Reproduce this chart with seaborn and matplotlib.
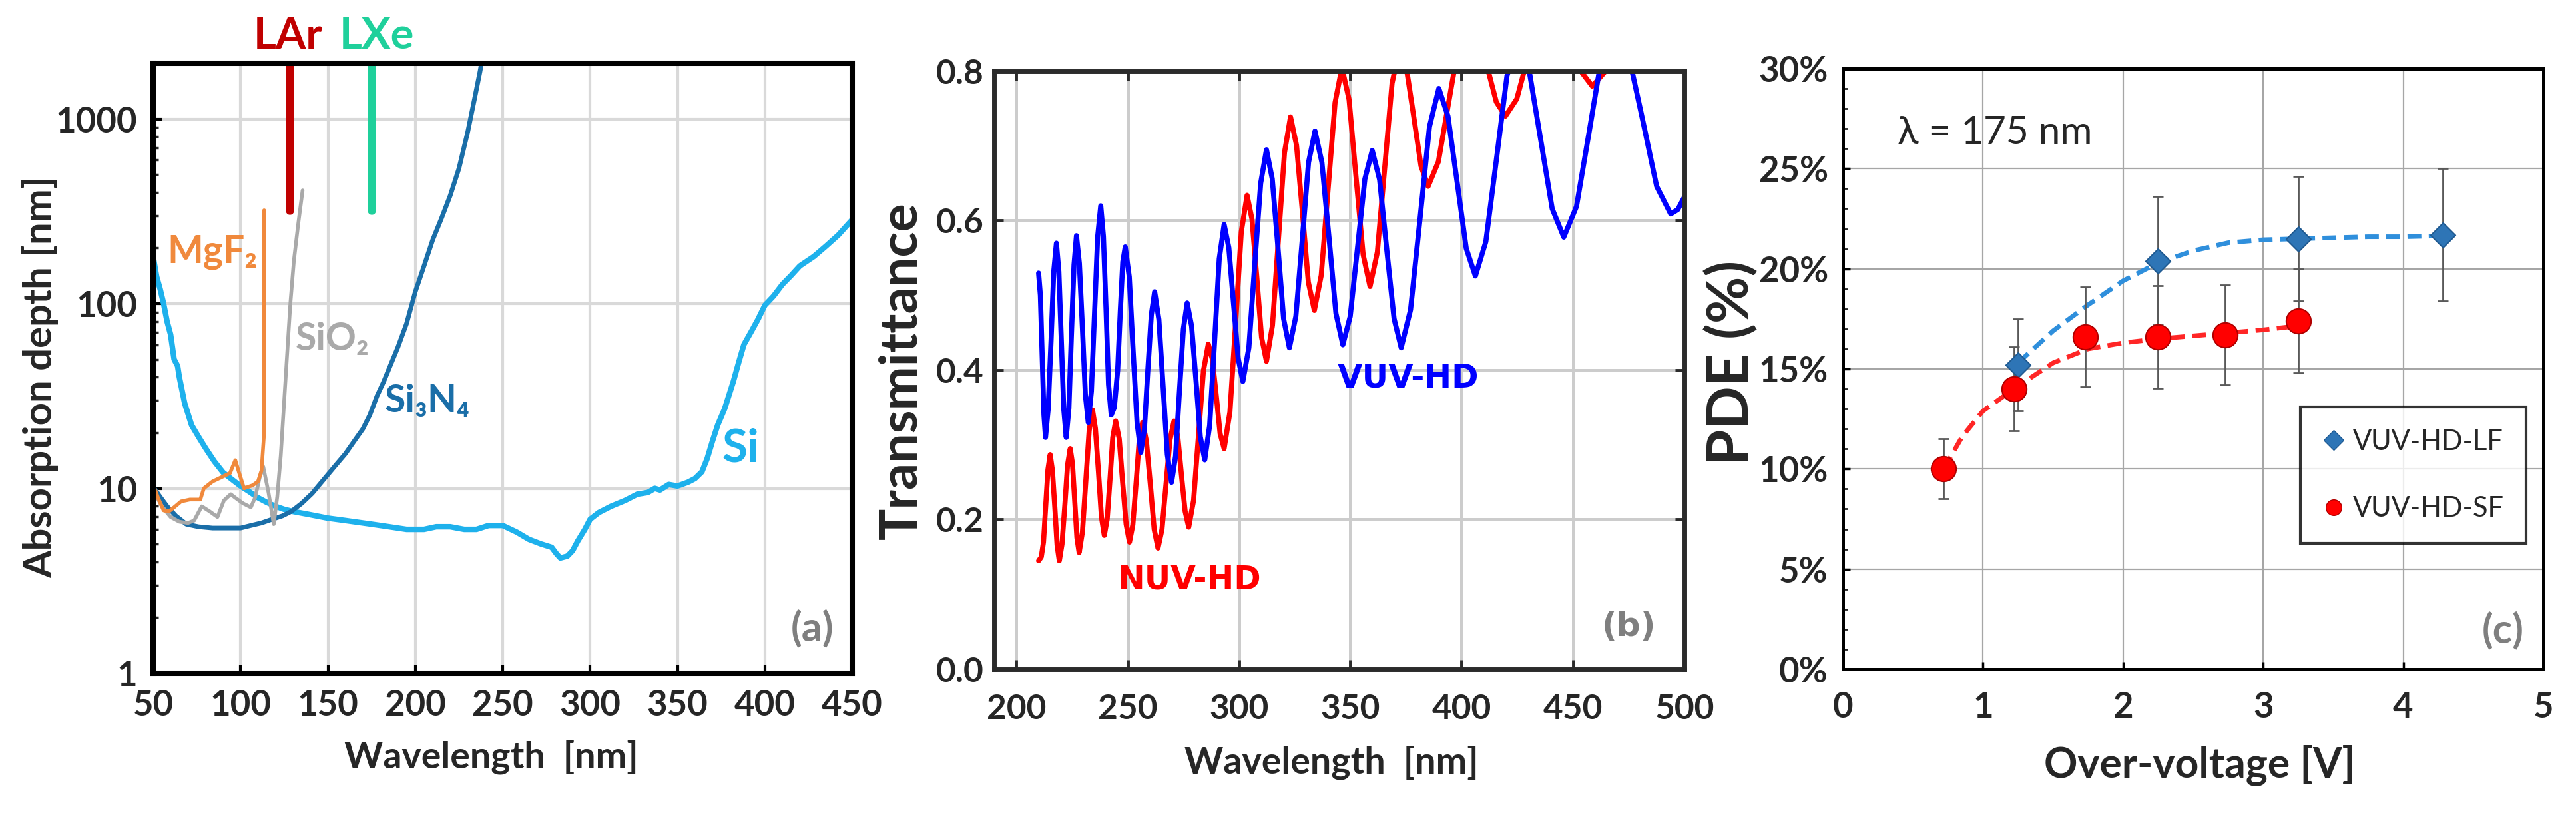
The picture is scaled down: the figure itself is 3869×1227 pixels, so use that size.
import matplotlib
matplotlib.use("Agg")
import matplotlib.pyplot as plt
import matplotlib.ticker as mticker
from matplotlib.lines import Line2D
import numpy as np
import seaborn as sns

# ---------------- panel (a): absorption depth [nm] vs wavelength [nm] ----------------
si_nm = [50, 52, 54, 56, 58, 60, 62, 64, 65, 68, 72, 76, 80, 85, 90, 95, 100, 105, 110, 115,
         120, 125, 130, 140, 150, 160, 175, 185, 195, 205, 212, 220, 228, 235, 242, 250, 258, 265, 272, 278,
         281, 283, 287, 290, 293, 297, 300, 305, 312, 320, 327, 333, 337, 340, 345, 350, 356, 360, 364, 367,
         370, 373, 377, 382, 385, 388, 392, 396, 400, 405, 410, 415, 420, 428, 435, 442, 450]
si_depth = [180, 140, 120, 100, 80, 68, 50, 46, 40, 29, 22, 19, 16.5, 14, 12.2, 11.2, 10.3, 9.6, 8.9, 8.4,
            8.0, 7.7, 7.5, 7.2, 6.9, 6.7, 6.4, 6.2, 6.0, 6.0, 6.2, 6.2, 6.0, 6.0, 6.3, 6.3, 5.8, 5.3, 5.0, 4.8,
            4.4, 4.2, 4.3, 4.6, 5.2, 6.0, 6.8, 7.4, 8.0, 8.6, 9.3, 9.5, 10.0, 9.8, 10.5, 10.3, 10.8, 11.3, 12.3, 14.5,
            18, 22, 27, 38, 48, 60, 70, 82, 98, 110, 127, 142, 160, 180, 205, 235, 285]

si3n4_nm = [50, 54, 58, 63, 69, 76, 84, 92, 100, 106, 112, 118, 124, 129, 135, 141, 147, 154, 160, 165,
            170, 174, 178, 182, 186, 190, 195, 200, 205, 210, 215, 220, 225, 230, 234, 237, 239]
si3n4_depth = [10.2, 9.0, 8.0, 7.1, 6.4, 6.2, 6.1, 6.1, 6.1, 6.3, 6.5, 6.8, 7.1, 7.5, 8.3, 9.4, 11.0, 13.2, 15.4, 18,
               21, 25, 31.5, 38, 47, 58, 78, 116, 160, 222, 290, 385, 540, 850, 1300, 1800, 2300]

mgf2_nm = [50, 53, 56, 59, 62, 66, 71, 77, 79, 84, 90, 94, 97, 99, 102, 107, 110, 112, 113.5, 113.5]
mgf2_depth = [10.5, 8.8, 7.6, 7.5, 7.9, 8.5, 8.7, 8.7, 10.0, 10.9, 11.6, 12.1, 14.2, 12.3, 10.0, 10.4, 10.9, 12.5, 20, 320]

sio2_nm = [50, 55, 60, 65, 70, 73.5, 77.8, 82.4, 86.8, 90.5, 94.4, 97, 101.4, 105.9, 108.3, 111, 113, 116,
           119, 121, 123, 125, 127, 128.5, 130.5, 133, 135.5]
sio2_depth = [9.8, 8.0, 7.0, 6.6, 6.5, 6.7, 8.0, 7.5, 7.0, 8.6, 9.3, 8.9, 8.3, 7.9, 8.9, 11.5, 13.1, 9.5,
              6.4, 9.0, 15, 30, 60, 100, 170, 270, 410]

scint_names = ["LAr", "LXe"]
scint_nm = [128, 175]
scint_label_nm = [127, 178]
scint_bar_bottom = 320

# ---------------- panel (b): transmittance vs wavelength ----------------
vuv_nm = [210.0, 210.8, 211.6, 212.4, 213.1,
          214.3, 215.6, 216.8, 218.0,
          219.1, 220.2, 221.3, 222.4,
          223.6, 224.7, 225.9, 227.0,
          228.3, 229.7, 231.0, 232.3,
          233.7, 235.1, 236.5, 237.9,
          239.1, 240.3, 241.4, 242.6,
          244.0, 245.5, 246.7, 247.8, 248.9,
          250.7, 252.4, 254.2, 255.9,
          257.5, 259.0, 260.6, 262.1,
          264.0, 265.9, 267.8, 269.7,
          271.5, 273.2, 275.0, 276.7,
          278.7, 280.7, 282.6, 284.6,
          286.8, 289.0, 291.1, 293.3,
          295.4, 297.5, 299.6, 301.7,
          304.4, 307.0, 309.7, 312.3,
          314.9, 317.5, 320.0, 322.6,
          325.5, 328.4, 331.2, 334.1,
          337.2, 340.4, 343.5, 346.6,
          349.9, 353.2, 356.5, 359.8,
          363.1, 366.3, 369.6, 372.8,
          377.0, 381.3, 385.5, 389.7,
          393.8, 397.9, 402.0, 406.1,
          410.8, 415.6, 420.3, 425.0,
          430.2, 435.4, 440.6, 445.8,
          451.5, 457.2, 462.8, 468.5,
          474.8, 481.2, 487.5, 493.8,
          497.0, 500.0]
vuv_t = [0.53, 0.50, 0.42, 0.34, 0.31,
         0.348, 0.44, 0.532, 0.57,
         0.532, 0.44, 0.348, 0.31,
         0.349, 0.445, 0.541, 0.58,
         0.543, 0.455, 0.367, 0.33,
         0.372, 0.475, 0.578, 0.62,
         0.579, 0.48, 0.381, 0.34,
         0.35, 0.40, 0.48, 0.545, 0.565,
         0.525, 0.428, 0.33, 0.29,
         0.321, 0.398, 0.474, 0.505,
         0.468, 0.378, 0.287, 0.25,
         0.285, 0.37, 0.455, 0.49,
         0.459, 0.385, 0.311, 0.28,
         0.326, 0.438, 0.549, 0.595,
         0.564, 0.49, 0.416, 0.385,
         0.43, 0.54, 0.65, 0.695,
         0.656, 0.563, 0.469, 0.43,
         0.472, 0.575, 0.678, 0.72,
         0.678, 0.577, 0.476, 0.434,
         0.472, 0.564, 0.656, 0.694,
         0.655, 0.562, 0.469, 0.43,
         0.481, 0.604, 0.726, 0.777,
         0.74, 0.652, 0.563, 0.526,
         0.572, 0.683, 0.794, 0.84,
         0.802, 0.709, 0.616, 0.578,
         0.619, 0.719, 0.819, 0.86,
         0.823, 0.735, 0.646, 0.609,
         0.615, 0.632]

nuv_nm = [210.0, 211.2,
          212.2, 213.2, 214.2, 215.2,
          216.2, 217.3, 218.3, 219.3,
          220.5, 221.8, 223.0, 224.2,
          225.2, 226.2, 227.2, 228.2,
          229.7, 231.2, 232.7, 234.2,
          235.5, 236.9, 238.2, 239.5,
          240.8, 242.1, 243.3, 244.6,
          246.2, 247.7, 249.3, 250.8,
          252.3, 253.8, 255.2, 256.7,
          258.4, 260.2, 261.9, 263.6,
          265.4, 267.2, 269.0, 270.8,
          272.5, 274.1, 275.8, 277.4,
          279.6, 281.8, 284.0, 286.2,
          288.0, 289.8, 291.5, 293.3,
          295.9, 298.5, 301.0, 303.6,
          305.8, 308.0, 310.1, 312.3,
          315.0, 317.7, 320.4, 323.1,
          325.8, 328.5, 331.1, 333.8,
          336.9, 340.0, 343.1, 346.2,
          349.4, 352.5, 355.7, 358.8,
          362.1, 365.4, 368.7, 372.0,
          375.2, 378.5, 381.7, 384.9,
          389.5, 394.1, 398.7, 403.3,
          407.4, 411.5, 415.5, 419.6,
          424.7, 429.8, 434.9, 440.0,
          444.7, 449.3, 454.0, 458.6,
          463.9, 469.3, 474.7, 480.0,
          490.0, 500.0]
nuv_t = [0.145, 0.15,
         0.17, 0.219, 0.267, 0.287,
         0.266, 0.216, 0.166, 0.145,
         0.167, 0.22, 0.273, 0.295,
         0.275, 0.226, 0.176, 0.156,
         0.184, 0.252, 0.319, 0.347,
         0.322, 0.263, 0.204, 0.179,
         0.201, 0.256, 0.31, 0.332,
         0.308, 0.251, 0.194, 0.17,
         0.193, 0.25, 0.307, 0.33,
         0.305, 0.246, 0.187, 0.162,
         0.187, 0.247, 0.307, 0.332,
         0.311, 0.261, 0.211, 0.19,
         0.226, 0.313, 0.399, 0.435,
         0.415, 0.365, 0.315, 0.295,
         0.344, 0.465, 0.585, 0.634,
         0.602, 0.523, 0.444, 0.412,
         0.46, 0.576, 0.691, 0.739,
         0.701, 0.61, 0.518, 0.48,
         0.527, 0.643, 0.758, 0.805,
         0.762, 0.659, 0.555, 0.512,
         0.558, 0.671, 0.784, 0.83,
         0.803, 0.738, 0.673, 0.646,
         0.679, 0.758, 0.837, 0.87,
         0.851, 0.805, 0.759, 0.74,
         0.763, 0.82, 0.877, 0.90,
         0.882, 0.84, 0.798, 0.78,
         0.798, 0.84, 0.882, 0.90,
         0.875, 0.84]

# ---------------- panel (c): PDE vs over-voltage at 175 nm ----------------
lf_ov = [1.25, 2.25, 3.25, 4.28]
lf_pde = [15.2, 20.4, 21.5, 21.7]
lf_err = [2.3, 3.2, 3.1, 3.3]
sf_ov = [0.72, 1.22, 1.73, 2.25, 2.73, 3.25]
sf_pde = [10.0, 14.0, 16.6, 16.6, 16.7, 17.4]
sf_err = [1.5, 2.1, 2.5, 2.55, 2.5, 2.6]
lf_fit_ov = [1.25, 1.5, 1.75, 2.0, 2.25, 2.5, 2.75, 3.0, 3.25, 3.5, 3.75, 4.0, 4.28]
lf_fit_pde = [15.3, 16.9, 18.2, 19.4, 20.3, 20.9, 21.3, 21.45, 21.5, 21.55, 21.6, 21.6, 21.65]
sf_fit_ov = [0.72, 0.85, 1.0, 1.22, 1.5, 1.75, 2.0, 2.25, 2.5, 2.75, 3.0, 3.25]
sf_fit_pde = [10.0, 11.6, 12.9, 14.0, 15.3, 16.0, 16.3, 16.5, 16.65, 16.8, 16.95, 17.15]

# ---------------- style ----------------
sns.set_theme(style="white")
plt.rcParams['font.family'] = ['Lato', 'DejaVu Sans']
plt.rcParams['font.weight'] = 'bold'

grey_txt = '#7f7f7f'

fig = plt.figure(figsize=(38.69, 12.27), dpi=100)
ax_a = fig.add_axes([0.05945, 0.17604, 0.27139, 0.74654])
ax_b = fig.add_axes([0.38589, 0.18093, 0.26803, 0.73187])
ax_c = fig.add_axes([0.71543, 0.18093, 0.27191, 0.73513])

# ---------------- draw (a) ----------------
ax_a.set_yscale('log')
curves_a = [
    (si_nm, si_depth, '#1eb1ec', 6.0),
    (si3n4_nm, si3n4_depth, '#1a6ea8', 5.0),
    (sio2_nm, sio2_depth, '#a9a9a9', 4.0),
    (mgf2_nm, mgf2_depth, '#f0893c', 4.0),
]
for xs, ys, col, lw in curves_a:
    sns.lineplot(x=xs, y=ys, color=col, linewidth=lw, estimator=None, sort=False, ax=ax_a)

ax_a.set_xlim(50, 450)
ax_a.set_ylim(1, 2000)
scint_cols = ['#c00000', '#1fd09b']
ax_a.vlines(scint_nm, scint_bar_bottom, 2000, colors=scint_cols, linewidth=9, capstyle='round')
for name, xl, col in zip(scint_names, scint_label_nm, scint_cols):
    ax_a.text(xl, 1.044, name, transform=ax_a.get_xaxis_transform(), ha='center', va='center',
              fontsize=47, fontweight='bold', color=col, clip_on=False)

ax_a.text(84, 167, 'MgF\u2082', color='#f0893c', fontsize=41, fontweight='bold', ha='center', va='baseline')
ax_a.text(152.5, 56, 'SiO\u2082', color='#a9a9a9', fontsize=41, fontweight='bold', ha='center', va='baseline')
ax_a.text(207, 25.8, 'Si\u2083N\u2084', color='#1a6ea8', fontsize=41, fontweight='bold', ha='center', va='baseline')
ax_a.text(386, 13.9, 'Si', color='#1eb1ec', fontsize=50, fontweight='bold', ha='center', va='baseline')
ax_a.text(0.9425, 0.074, '(a)', color=grey_txt, fontsize=44, fontweight='bold', ha='center', va='center',
          transform=ax_a.transAxes)

ax_a.set_xticks(range(50, 451, 50))
ax_a.set_yticks([1, 10, 100, 1000], labels=['1', '10', '100', '1000'])
ax_a.yaxis.set_minor_locator(mticker.LogLocator(base=10, subs=np.arange(2, 10) * 1.0, numticks=20))
ax_a.yaxis.set_minor_formatter(mticker.NullFormatter())
ax_a.grid(True, which='major', color='#d9d9d9', linewidth=3)
ax_a.set_axisbelow(True)
ax_a.tick_params(axis='both', which='major', direction='in', length=9, width=3, color='black',
                 labelsize=38, bottom=True, left=True, pad=17)
ax_a.tick_params(axis='y', which='minor', direction='in', length=6, width=2.5, left=True)
for sp in ax_a.spines.values():
    sp.set_color('black')
    sp.set_linewidth(5.8)
ax_a.set_xlabel('Wavelength  [nm]', fontsize=40, fontweight='bold')
ax_a.set_ylabel('Absorption depth [nm]', fontsize=43, fontweight='bold')
ax_a.xaxis.set_label_coords(0.484, -0.110)
ax_a.yaxis.set_label_coords(-0.135, 0.485)

# ---------------- draw (b) ----------------
sns.lineplot(x=nuv_nm, y=nuv_t, color='#ff0000', linewidth=5.5, estimator=None, sort=False, ax=ax_b)
sns.lineplot(x=vuv_nm, y=vuv_t, color='#0000ff', linewidth=5.5, estimator=None, sort=False, ax=ax_b)
ax_b.set_xlim(190, 500)
ax_b.set_ylim(0, 0.8)
ax_b.set_xticks(range(200, 501, 50))
ax_b.set_yticks([0, 0.2, 0.4, 0.6, 0.8], labels=['0.0', '0.2', '0.4', '0.6', '0.8'])
ax_b.grid(True, color='#cccccc', linewidth=3.6)
ax_b.set_axisbelow(True)
ax_b.tick_params(axis='both', direction='in', length=10, width=3.5, color='#2b2b2b', labelsize=37,
                 bottom=True, left=True, top=True, right=True)
ax_b.tick_params(axis='x', pad=27)
ax_b.tick_params(axis='y', pad=11)
for sp in ax_b.spines.values():
    sp.set_color('#2b2b2b')
    sp.set_linewidth(5)
ax_b.text(277.7, 0.12, 'NUV-HD', color='#ff0000', fontsize=35, fontweight='bold', family='DejaVu Sans',
          ha='center', va='center')
ax_b.text(376, 0.39, 'VUV-HD', color='#0000ff', fontsize=35, fontweight='bold', family='DejaVu Sans',
          ha='center', va='center')
ax_b.text(475, 0.057, '(b)', color=grey_txt, fontsize=36, fontweight='bold', family='DejaVu Sans',
          ha='center', va='center')
ax_b.set_xlabel('Wavelength  [nm]', fontsize=40, fontweight='bold')
ax_b.set_ylabel('Transmittance', fontsize=57, fontweight='bold')
ax_b.xaxis.set_label_coords(0.489, -0.128)
ax_b.yaxis.set_label_coords(-0.099, 0.499)

# ---------------- draw (c) ----------------
blue_c = '#2e75b6'
red_c = '#ff0000'
sns.lineplot(x=lf_fit_ov, y=lf_fit_pde, color='#2f8fdc', linewidth=5, estimator=None,
             sort=False, ax=ax_c).lines[-1].set_dashes((3, 1.6))
sns.lineplot(x=sf_fit_ov, y=sf_fit_pde, color='#ff2626', linewidth=5, estimator=None,
             sort=False, ax=ax_c).lines[-1].set_dashes((3, 1.6))
ax_c.errorbar(lf_ov, lf_pde, yerr=lf_err, fmt='none', ecolor='#595959', elinewidth=2, capsize=6, capthick=2, zorder=3)
ax_c.errorbar(sf_ov, sf_pde, yerr=sf_err, fmt='none', ecolor='#595959', elinewidth=2, capsize=6, capthick=2, zorder=3)
sns.scatterplot(x=lf_ov, y=lf_pde, marker='D', s=360, color=blue_c, edgecolor='#1f5a91', linewidth=1.5,
                zorder=4, ax=ax_c)
sns.scatterplot(x=sf_ov, y=sf_pde, marker='o', s=720, color=red_c, edgecolor='#b00000', linewidth=1.5,
                zorder=4, ax=ax_c)

ax_c.set_xlim(0, 5)
ax_c.set_ylim(0, 30)
ax_c.set_xticks(range(0, 6))
ax_c.set_yticks(range(0, 31, 5))
ax_c.yaxis.set_major_formatter(mticker.FuncFormatter(lambda v, p: '{:d}%'.format(int(round(v)))))
ax_c.yaxis.set_minor_locator(mticker.MultipleLocator(1))
ax_c.grid(True, which='major', color='#a6a6a6', linewidth=1.6)
ax_c.set_axisbelow(True)
ax_c.tick_params(axis='both', which='major', direction='in', length=8, width=2.5, color='black',
                 labelsize=38, bottom=True, left=True)
ax_c.tick_params(axis='x', pad=24)
ax_c.tick_params(axis='y', pad=16)
ax_c.tick_params(axis='y', which='minor', direction='in', length=5, width=2, left=True)
for sp in ax_c.spines.values():
    sp.set_color('black')
    sp.set_linewidth(3.6)
ax_c.text(0.39, 26.8, '\u03bb = 175 nm', fontsize=42, fontweight='normal', ha='left', va='center')
ax_c.text(4.71, 1.95, '(c)', color=grey_txt, fontsize=44, fontweight='bold', ha='center', va='center')
ax_c.set_xlabel('Over-voltage [V]', fontsize=45, fontweight='bold')
ax_c.set_ylabel('PDE (%)', fontsize=62, fontweight='bold')
ax_c.xaxis.set_label_coords(0.5095, -0.125)
ax_c.yaxis.set_label_coords(-0.12, 0.511)

handles = [
    Line2D([], [], linestyle='none', marker='D', markersize=15, markerfacecolor=blue_c,
           markeredgecolor='#1f5a91', label='VUV-HD-LF'),
    Line2D([], [], linestyle='none', marker='o', markersize=17, markerfacecolor=red_c,
           markeredgecolor='#b00000', label='VUV-HD-SF'),
]
leg = ax_c.legend(handles=handles, loc='upper left', bbox_to_anchor=(0.653, 0.4365),
                  prop={'size': 30, 'weight': 'normal'}, frameon=True, fancybox=False,
                  handlelength=0.8, handletextpad=0.3, borderpad=0.8, labelspacing=1.5,
                  borderaxespad=0)
leg.get_frame().set_edgecolor('black')
leg.get_frame().set_linewidth(3)

fig.savefig('out.png', dpi=100)
